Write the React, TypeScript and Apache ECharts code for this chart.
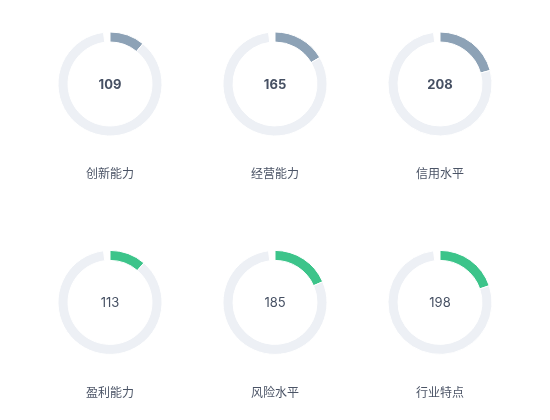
import React, { useEffect, useRef } from 'react';
import * as echarts from 'echarts';

const names = ['创新能力', '经营能力', '信用水平', '盈利能力', '风险水平', '行业特点'];
const values = [109, 165, 208, 113, 185, 198];
const maxValue = 1000;
const gapValue = 20;

const colLeft = ['20%', '50%', '80%'];
const rowTop = ['20%', '72%'];
const labelTop = [167, 386];
const rowColors = ['#8da2b6', '#3cc48a'];

const FONT = 'Inter, "Noto Sans CJK SC", sans-serif';

const App: React.FC = () => {
  const chartRef = useRef<HTMLDivElement>(null);

  useEffect(() => {
    if (!chartRef.current) return;
    const chart = echarts.init(chartRef.current, undefined, { renderer: 'svg' });

    const option: echarts.EChartsOption = {
      animation: false,
      title: names.map((name, i) => ({
        text: name,
        left: colLeft[i % 3],
        top: labelTop[Math.floor(i / 3)],
        textAlign: 'center',
        padding: 0,
        textStyle: {
          fontSize: 12,
          fontWeight: 'normal',
          color: '#4b5466',
          fontFamily: FONT,
        },
      })),
      series: values.map((v, i) => {
        const row = Math.floor(i / 3);
        return {
          type: 'pie',
          silent: true,
          center: [colLeft[i % 3], rowTop[row]],
          radius: [42, 52],
          startAngle: 90,
          clockwise: true,
          emphasis: { disabled: true },
          labelLine: { show: false },
          itemStyle: { borderColor: '#fff', borderWidth: 1 },
          data: [
            {
              value: v,
              name: names[i],
              itemStyle: { color: rowColors[row] },
              label: {
                show: true,
                position: 'center',
                formatter: '{c}',
                fontSize: 13,
                fontWeight: row === 0 ? 'bold' : 'normal',
                color: '#465063',
                fontFamily: FONT,
              },
            },
            {
              value: maxValue - v - gapValue,
              name: 'rest',
              itemStyle: { color: '#edf0f5' },
              label: { show: false },
            },
            {
              value: gapValue,
              name: 'gap',
              itemStyle: { color: 'transparent', borderWidth: 0 },
              label: { show: false },
            },
          ],
        };
      }) as any,
    };

    chart.setOption(option);
    return () => {
      chart.dispose();
    };
  }, []);

  return (
    <div
      ref={chartRef}
      style={{ position: 'fixed', left: 0, top: 0, width: '550px', height: '420px' }}
    ></div>
  );
};

export default App;
